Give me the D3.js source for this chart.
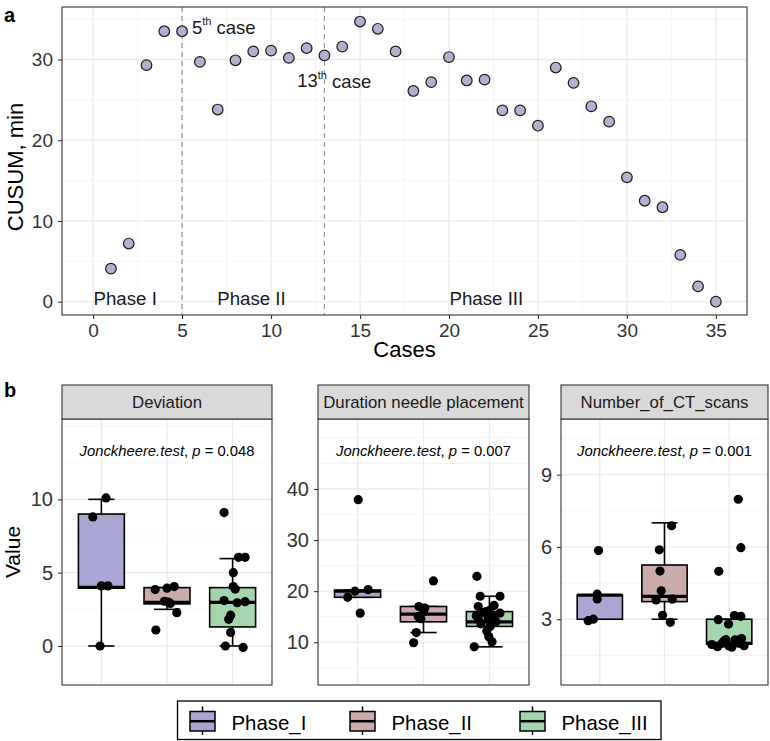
<!DOCTYPE html>
<html><head><meta charset="utf-8">
<script src="https://cdn.jsdelivr.net/npm/d3@7"></script>
<style>
body{margin:0;background:#fff}
svg{display:block}
text{font-family:"Liberation Sans",Arial,Helvetica,sans-serif}
</style>
</head><body>
<svg id="chart" width="770" height="741"></svg>
<script>
// ---------------- DATA ----------------
// Panel a: CUSUM learning curve
const cases = [1,2,3,4,5,6,7,8,9,10,11,12,13,14,15,16,17,18,19,20,21,22,23,24,25,26,27,28,29,30,31,32,33,34,35];
const cusum = [4.1,7.2,29.3,33.5,33.5,29.7,23.8,29.9,31.0,31.1,30.2,31.4,30.5,31.6,34.7,33.8,31.0,26.1,27.2,30.3,27.4,27.5,23.7,23.7,21.8,29.0,27.1,24.2,22.3,15.4,12.5,11.7,5.8,1.9,0.0];
const cutCases = [5, 13];
const cutLabels = [["5","th"," case"],["13","th"," case"]];
const phaseLabels = ["Phase I","Phase II","Phase III"];
const phaseLabelX = [1.8, 8.9, 22.1];
const xTicksA = [0,5,10,15,20,25,30,35];
const yTicksA = [0,10,20,30];

// Panel b: facets
const facetNames = ["Deviation","Duration needle placement","Number_of_CT_scans"];
const pValues = ["0.048","0.007","0.001"];
const phases = ["Phase_I","Phase_II","Phase_III"];
const phaseColors = ["#A9A6D3","#CBABAB","#A5D5AF"];
// box stats per phase: [lowerWhisker, q1, median, q3, upperWhisker]
const devBoxes = [[0,3.95,4.0,9.0,10.0],[2.5,2.87,2.97,3.98,3.98],[0,1.3,2.98,3.98,5.96]];
const durBoxes = [[18.8,18.8,20.0,20.2,20.2],[11.9,14.0,15.5,17.0,17.0],[9.1,13.1,14.0,16.0,19.0]];
const ctBoxes  = [[3.0,3.0,4.0,4.0,4.0],[3.0,3.73,3.95,5.25,7.0],[1.97,1.97,2.0,3.0,3.0]];
// points: [phaseIndex, value, horizontal jitter (category units)]
const devPoints = [
  [0,10.1,0.07],[0,8.8,-0.13],[0,4.1,0.0],[0,4.1,0.1],[0,0.0,-0.02],
  [1,3.85,-0.18],[1,3.94,0.0],[1,4.05,0.11],[1,3.05,-0.04],[1,2.9,0.05],[1,2.27,0.15],[1,1.09,-0.17],[1,3.0,0.02],
  [2,9.1,-0.13],[2,6.05,0.09],[2,6.05,0.19],[2,5.0,0.01],[2,4.05,0.01],[2,3.88,0.04],[2,3.1,-0.13],[2,2.95,0.07],
  [2,3.02,0.19],[2,2.1,-0.03],[2,1.82,-0.06],[2,0.92,-0.03],[2,0.0,-0.11],[2,-0.1,0.16]
];
const durPoints = [
  [0,37.9,0.01],[0,20.3,0.16],[0,18.8,-0.15],[0,15.7,0.04],[0,20.0,-0.04],
  [1,22.0,0.15],[1,17.0,-0.07],[1,16.0,0.0],[1,15.0,-0.08],[1,11.9,-0.11],[1,9.9,-0.15],[1,14.6,-0.04],[1,16.7,0.02],
  [2,22.9,-0.19],[2,19.0,-0.14],[2,19.0,0.16],[2,17.2,0.07],[2,17.0,-0.17],[2,15.2,-0.2],[2,14.7,-0.17],[2,14.5,-0.02],
  [2,15.0,0.06],[2,16.3,0.01],[2,15.7,0.16],[2,13.6,-0.13],[2,13.1,0.01],[2,12.2,-0.04],[2,11.1,-0.01],[2,10.1,0.04],
  [2,9.1,-0.23],[2,15.8,-0.08],[2,14.0,0.1],[2,16.0,-0.05]
];
const ctPoints = [
  [0,5.85,-0.02],[0,4.04,-0.04],[0,3.84,-0.04],[0,2.94,-0.18],[0,3.0,-0.1],
  [1,6.88,0.11],[1,5.88,-0.08],[1,5.0,-0.07],[1,4.18,-0.05],[1,3.8,-0.13],[1,3.83,0.12],[1,3.16,-0.03],[1,2.87,0.09],
  [2,7.98,0.14],[2,5.97,0.18],[2,4.99,-0.16],[2,2.98,-0.17],[2,2.8,-0.01],[2,3.15,0.08],[2,3.12,0.18],[2,1.86,-0.18],
  [2,2.1,-0.08],[2,1.84,0.04],[2,2.0,0.15],[2,2.0,-0.11],[2,2.14,0.09],[2,2.2,0.19],[2,1.9,-0.01],[2,1.9,0.23],
  [2,1.95,-0.27],[2,2.15,-0.05]
];
const devTicks = [0,5,10];
const durTicks = [10,20,30,40];
const ctTicks = [3,6,9];

// ---------------- LAYOUT ----------------
const svg = d3.select("#chart");
const FONT_TICK = 19, FONT_TITLE = 22;
const GRID_MAJ = "#EBEBEB", GRID_MIN = "#F3F3F3", BORDER = "#333333", TICKCOL = "#333333";

function minorBreaks(majors, domain){
  const step = majors[1]-majors[0];
  const ext = [majors[0]-step, ...majors, majors[majors.length-1]+step];
  const out = [];
  for(let i=0;i<ext.length-1;i++) out.push((ext[i]+ext[i+1])/2);
  ext.forEach(v=>{ if(!majors.includes(v)) out.push(v); });
  const lo = Math.min(...domain), hi = Math.max(...domain);
  return out.filter(v=>v>lo && v<hi);
}
function styleAxis(sel, fs){
  sel.select(".domain").remove();
  sel.selectAll(".tick line").attr("stroke",TICKCOL).attr("stroke-width",1.1);
  sel.selectAll(".tick text").attr("font-size",fs).attr("fill","#333").attr("font-family",'"Liberation Sans",Arial,sans-serif');
}

// ---------------- PANEL A ----------------
const A = {x0:62, x1:747, y0:7, y1:315};
const xA = d3.scaleLinear().domain([-1.75,36.75]).range([A.x0,A.x1]);
const yA = d3.scaleLinear().domain([-1.65,36.5]).range([A.y1,A.y0]);
const gA = svg.append("g");
gA.append("rect").attr("x",A.x0).attr("y",A.y0).attr("width",A.x1-A.x0).attr("height",A.y1-A.y0).attr("fill","#fff");
minorBreaks(yTicksA, yA.domain()).forEach(v=>gA.append("line").attr("x1",A.x0).attr("x2",A.x1).attr("y1",yA(v)).attr("y2",yA(v)).attr("stroke",GRID_MIN).attr("stroke-width",0.8));
minorBreaks(xTicksA, xA.domain()).forEach(v=>gA.append("line").attr("y1",A.y0).attr("y2",A.y1).attr("x1",xA(v)).attr("x2",xA(v)).attr("stroke",GRID_MIN).attr("stroke-width",0.8));
yTicksA.forEach(v=>gA.append("line").attr("x1",A.x0).attr("x2",A.x1).attr("y1",yA(v)).attr("y2",yA(v)).attr("stroke",GRID_MAJ).attr("stroke-width",1.3));
xTicksA.forEach(v=>gA.append("line").attr("y1",A.y0).attr("y2",A.y1).attr("x1",xA(v)).attr("x2",xA(v)).attr("stroke",GRID_MAJ).attr("stroke-width",1.3));
cutCases.forEach(c=>gA.append("line").attr("x1",xA(c)).attr("x2",xA(c)).attr("y1",A.y0).attr("y2",A.y1)
  .attr("stroke","#9A9A9A").attr("stroke-width",1.3).attr("stroke-dasharray","5,4"));
const cutLabelPos = [[5.55,34.0,"start"],[13.55,27.4,"middle"]];
cutLabels.forEach((parts,i)=>{
  const t = gA.append("text").attr("x",xA(cutLabelPos[i][0])).attr("y",yA(cutLabelPos[i][1])).attr("dy","0.35em")
    .attr("text-anchor",cutLabelPos[i][2]).attr("font-size",18.5).attr("fill","#1a1a1a");
  t.append("tspan").text(parts[0]);
  t.append("tspan").attr("font-size",11).attr("dy","-0.75em").text(parts[1]);
  t.append("tspan").attr("dy","0.48em").text(parts[2]);
});
phaseLabels.forEach((p,i)=>gA.append("text").attr("x",xA(phaseLabelX[i])).attr("y",yA(0)).attr("dy","0.18em")
  .attr("text-anchor","middle").attr("font-size",18.7).attr("fill","#1a1a1a").text(p));
gA.selectAll("circle.pt").data(cases).enter().append("circle")
  .attr("cx",(d)=>xA(d)).attr("cy",(d,i)=>yA(cusum[i])).attr("r",5.3)
  .attr("fill","#B2B0CE").attr("stroke","#1a1a1a").attr("stroke-width",1.2);
gA.append("rect").attr("x",A.x0).attr("y",A.y0).attr("width",A.x1-A.x0).attr("height",A.y1-A.y0)
  .attr("fill","none").attr("stroke",BORDER).attr("stroke-width",1.1);
const axXA = d3.axisBottom(xA).tickValues(xTicksA).tickSize(4).tickPadding(5);
const axYA = d3.axisLeft(yA).tickValues(yTicksA).tickSize(4).tickPadding(5);
gA.append("g").attr("transform",`translate(0,${A.y1})`).call(axXA).call(s=>styleAxis(s,FONT_TICK));
gA.append("g").attr("transform",`translate(${A.x0},0)`).call(axYA).call(s=>styleAxis(s,FONT_TICK));
svg.append("text").attr("x",(A.x0+A.x1)/2).attr("y",357).attr("text-anchor","middle").attr("font-size",FONT_TITLE).attr("fill","#000").text("Cases");
svg.append("text").attr("transform",`translate(23,${(A.y0+A.y1)/2+6}) rotate(-90)`).attr("text-anchor","middle").attr("font-size",FONT_TITLE).attr("fill","#000").text("CUSUM, min");
svg.append("text").attr("x",4).attr("y",22).attr("font-size",20).attr("font-weight","bold").text("a");
svg.append("text").attr("x",4).attr("y",397).attr("font-size",20).attr("font-weight","bold").text("b");

// ---------------- PANEL B ----------------
const stripTop = 385, stripBot = 419, panBot = 685;
const facetX = [[62,272],[318,529],[561,768]];
const facetDomains = [[-2.66,15.48],[1.63,53.7],[0.27,11.31]];
const facetBoxes = [devBoxes, durBoxes, ctBoxes];
const facetPoints = [devPoints, durPoints, ctPoints];
const facetTicks = [devTicks, durTicks, ctTicks];
const FONT_TICK_B = 20;

facetNames.forEach((name,fi)=>{
  const [x0,x1] = facetX[fi];
  const g = svg.append("g");
  const xL = d3.scaleLinear().domain([0.4,3.6]).range([x0,x1]);
  const xc = (i)=>xL(i+1);
  const unit = xL(1)-xL(0);
  const yS = d3.scaleLinear().domain(facetDomains[fi]).range([panBot,stripBot]);
  g.append("rect").attr("x",x0).attr("y",stripBot).attr("width",x1-x0).attr("height",panBot-stripBot).attr("fill","#fff");
  minorBreaks(facetTicks[fi], yS.domain()).forEach(v=>g.append("line").attr("x1",x0).attr("x2",x1).attr("y1",yS(v)).attr("y2",yS(v)).attr("stroke",GRID_MIN).attr("stroke-width",0.8));
  facetTicks[fi].forEach(v=>g.append("line").attr("x1",x0).attr("x2",x1).attr("y1",yS(v)).attr("y2",yS(v)).attr("stroke",GRID_MAJ).attr("stroke-width",1.3));
  phases.forEach((p,i)=>g.append("line").attr("x1",xc(i)).attr("x2",xc(i)).attr("y1",stripBot).attr("y2",panBot).attr("stroke",GRID_MAJ).attr("stroke-width",1.3));
  const bw = 0.7*unit, cw = 0.4*unit;
  facetBoxes[fi].forEach((b,i)=>{
    const [lo,q1,med,q3,hi] = b;
    const cx = xc(i);
    g.append("line").attr("x1",cx).attr("x2",cx).attr("y1",yS(hi)).attr("y2",yS(q3)).attr("stroke","#000").attr("stroke-width",1.6);
    g.append("line").attr("x1",cx).attr("x2",cx).attr("y1",yS(q1)).attr("y2",yS(lo)).attr("stroke","#000").attr("stroke-width",1.6);
    g.append("line").attr("x1",cx-cw/2).attr("x2",cx+cw/2).attr("y1",yS(hi)).attr("y2",yS(hi)).attr("stroke","#000").attr("stroke-width",1.6);
    g.append("line").attr("x1",cx-cw/2).attr("x2",cx+cw/2).attr("y1",yS(lo)).attr("y2",yS(lo)).attr("stroke","#000").attr("stroke-width",1.6);
    g.append("rect").attr("x",cx-bw/2).attr("y",yS(q3)).attr("width",bw).attr("height",Math.max(0.5,yS(q1)-yS(q3)))
      .attr("fill",phaseColors[i]).attr("stroke","#000").attr("stroke-width",1.6);
    g.append("line").attr("x1",cx-bw/2).attr("x2",cx+bw/2).attr("y1",yS(med)).attr("y2",yS(med)).attr("stroke","#000").attr("stroke-width",3.2);
  });
  g.selectAll("circle.p").data(facetPoints[fi]).enter().append("circle")
    .attr("cx",d=>xc(d[0])+d[2]*unit).attr("cy",d=>yS(d[1])).attr("r",4.6).attr("fill","#000");
  const t = g.append("text").attr("x",xc(1)).attr("y",stripBot+37).attr("text-anchor","middle").attr("font-size",14.8).attr("fill","#000");
  t.append("tspan").attr("font-style","italic").text("Jonckheere.test");
  t.append("tspan").text(", ");
  t.append("tspan").attr("font-style","italic").text("p");
  t.append("tspan").text(" = " + pValues[fi]);
  g.append("rect").attr("x",x0).attr("y",stripBot).attr("width",x1-x0).attr("height",panBot-stripBot).attr("fill","none").attr("stroke",BORDER).attr("stroke-width",1.1);
  g.append("rect").attr("x",x0).attr("y",stripTop).attr("width",x1-x0).attr("height",stripBot-stripTop).attr("fill","#D9D9D9").attr("stroke",BORDER).attr("stroke-width",1.1);
  g.append("text").attr("x",(x0+x1)/2).attr("y",(stripTop+stripBot)/2).attr("dy","0.36em").attr("text-anchor","middle").attr("font-size",16.8).attr("fill","#1a1a1a").text(name);
  const ax = d3.axisLeft(yS).tickValues(facetTicks[fi]).tickSize(4).tickPadding(5);
  g.append("g").attr("transform",`translate(${x0},0)`).call(ax).call(s=>styleAxis(s,FONT_TICK_B));
});
svg.append("text").attr("transform",`translate(20,${(stripBot+panBot)/2}) rotate(-90)`).attr("text-anchor","middle").attr("font-size",21).attr("fill","#000").text("Value");

// ---------------- LEGEND ----------------
const lg = svg.append("g");
lg.append("rect").attr("x",177.5).attr("y",701).attr("width",483.5).attr("height",38.5).attr("fill","#fff").attr("stroke","#000").attr("stroke-width",1.3);
const keyX = [190, 350, 520];
phases.forEach((p,i)=>{
  const kx = keyX[i], cx = kx+12.5;
  lg.append("line").attr("x1",cx).attr("x2",cx).attr("y1",706.5).attr("y2",735).attr("stroke","#000").attr("stroke-width",1.5);
  lg.append("rect").attr("x",kx).attr("y",711.5).attr("width",25).attr("height",19.5).attr("fill",phaseColors[i]).attr("stroke","#000").attr("stroke-width",1.5);
  lg.append("line").attr("x1",kx).attr("x2",kx+25).attr("y1",721.2).attr("y2",721.2).attr("stroke","#000").attr("stroke-width",2.5);
  lg.append("text").attr("x",kx+41.5).attr("y",730).attr("font-size",20.4).attr("fill","#000").text(p);
});
</script>
</body></html>
